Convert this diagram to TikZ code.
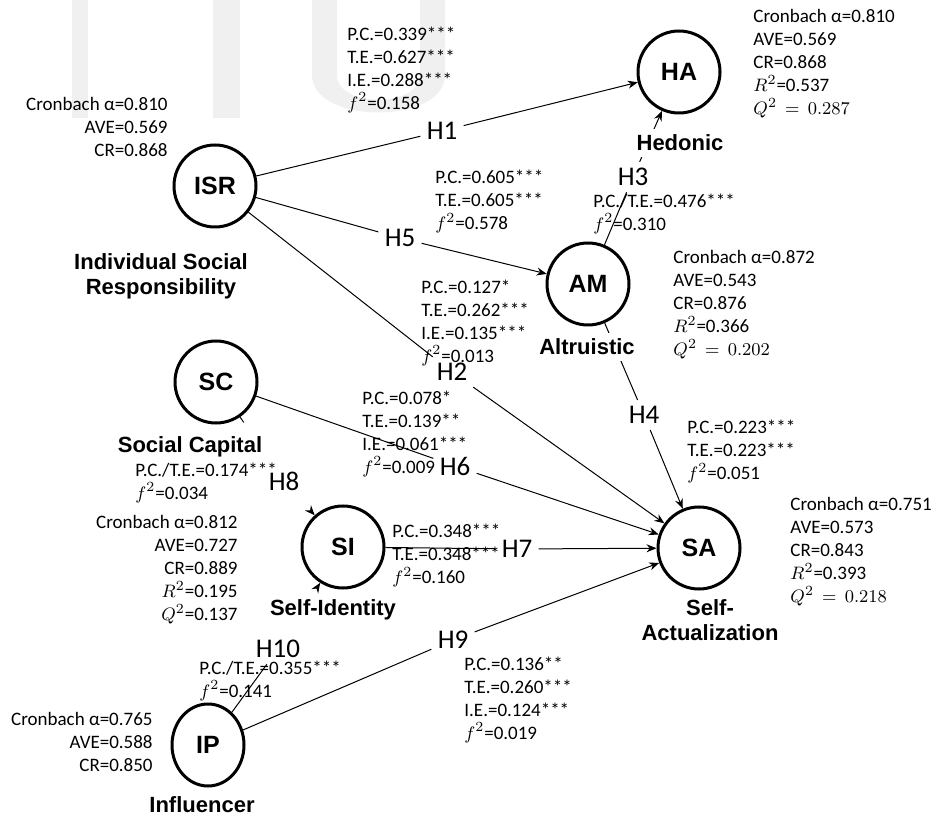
\documentclass[tikz,border=0pt]{standalone}
\usepackage{amsmath}
\usepackage{fontspec}
\setmainfont{Carlito}
\newfontfamily\boldsans{Liberation Sans}
\usepackage{tikz}
\usetikzlibrary{shapes, arrows.meta}
\definecolor{wmgrey}{RGB}{240, 240, 240}

\begin{document}
\begin{tikzpicture}[
   x=0.5pt, y=-0.5pt,
   latent/.style={circle, draw=black, line width=1.5, text=black,
                  inner sep=0, minimum size=41pt,
                  font=\boldsans\bfseries\fontsize{12.5}{14}\selectfont},
   latentell/.style={ellipse, draw=black, line width=1.5, text=black,
                     inner sep=0, minimum width=36pt, minimum height=41pt,
                     font=\boldsans\bfseries\fontsize{12.5}{14}\selectfont},
   construct/.style={font=\boldsans\bfseries\fontsize{11}{12.5}\selectfont,
                     align=center, inner sep=3pt, fill=white},
   statl/.style={anchor=west, align=left, inner sep=0,
                 font=\fontsize{9.5}{11.5}\selectfont},
   statr/.style={anchor=east, align=right, inner sep=0,
                 font=\fontsize{9.5}{11.5}\selectfont},
   hyp/.style={font=\fontsize{13.5}{15}\selectfont, inner sep=3pt},
   link/.style={line width=0.5},
   arr/.style={link, ->, >={Stealth[length=5pt, width=4pt]}}
  ]

  \useasboundingbox (0, 0) rectangle (936, 817);

  % watermark
  \fill[wmgrey] (72, 0) rectangle (88, 118);
  \fill[wmgrey] (213, 0) rectangle (240, 118);
  \fill[wmgrey] (312, 0) -- (312, 75) .. controls (312, 125) and (445, 125) .. (445, 75)
    -- (445, 0) -- (420, 0) -- (420, 75) .. controls (420, 108) and (337, 108) .. (337, 75)
    -- (337, 0) -- cycle;

  % Constructs
  \node (HA) at (679, 72) [latent] {HA};
  \node (ISR) at (215, 186) [latent] {ISR};
  \node (AM) at (588, 284) [latent] {AM};
  \node (SC) at (216, 382) [latent] {SC};
  \node (SI) at (343, 547) [latent] {SI};
  \node (SA) at (699, 548) [latent] {SA};
  \node (IP) at (208, 745) [latentell] {IP};

  % Hypotheses
  \node (H1) at (442, 131) [hyp] {H1};
  \node (H2) at (452, 372) [hyp] {H2};
  \node (H3) at (633, 177) [hyp] {H3};
  \node (H4) at (644, 415) [hyp] {H4};
  \node (H5) at (400, 238) [hyp] {H5};
  \node (H6) at (455, 466) [hyp] {H6};
  \node (H7) at (517, 549) [hyp] {H7};
  \node (H8) at (284, 481) [hyp] {H8};
  \node (H9) at (453, 640) [hyp] {H9};
  \node (H10) at (278, 649) [hyp] {H10};

  \foreach \B/\E in {ISR/H1, ISR/H5, ISR/H2, AM/H3, AM/H4, SC/H6, SI/H7, IP/H9, IP/H10} {
    \draw[link] (\B) -- (\E);
  }
  \draw[link, shorten >=26pt] (SC) -- (H8);
  \foreach \B/\E in {H1/HA, H3/HA, H5/AM, H2/SA, H4/SA, H6/SA, H7/SA, H9/SA} {
    \draw[arr] (\B) -- (\E);
  }
  \draw[arr, shorten <=11pt] (H8) -- (SI);
  \draw[arr, shorten <=27pt] (H10) -- (SI);

  \node (lHA) at (680, 143) [construct] {Hedonic};
  \node (lISR) at (161, 276) [construct] {Individual Social\\Responsibility};
  \node (lAM) at (587, 347) [construct] {Altruistic};
  \node (lSC) at (190, 447) [construct] {Social Capital};
  \node (lSI) at (333, 610) [construct] {Self-Identity};
  \node (lSA) at (710, 620) [construct] {Self-\\Actualization};
  \node (lIP) at (202, 805) [construct] {Influencer};

  % Measurement
  \node (sHA) at (753, 64) [statl] {Cronbach α=0.810\\AVE=0.569\\CR=0.868\\$R^2$=0.537\\$Q^2\,=\,0.287$};
  \node (sISR) at (168, 127) [statr] {Cronbach α=0.810\\AVE=0.569\\CR=0.868};
  \node (sAM) at (673, 305) [statl] {Cronbach α=0.872\\AVE=0.543\\CR=0.876\\$R^2$=0.366\\$Q^2\,=\,0.202$};
  \node (sSC) at (238, 570) [statr] {Cronbach α=0.812\\AVE=0.727\\CR=0.889\\$R^2$=0.195\\$Q^2$=0.137};
  \node (sSA) at (790, 552) [statl] {Cronbach α=0.751\\AVE=0.573\\CR=0.843\\$R^2$=0.393\\$Q^2\,=\,0.218$};
  \node (sIP) at (153, 742) [statr] {Cronbach α=0.765\\AVE=0.588\\CR=0.850};

  % Paths
  \node (pH1) at (347, 70) [statl] {P.C.=0.339***\\T.E.=0.627***\\I.E.=0.288***\\$f^2$=0.158};
  \node (pH5) at (435, 202) [statl] {P.C.=0.605***\\T.E.=0.605***\\$f^2$=0.578};
  \node (pH3) at (593, 214) [statl] {P.C./T.E.=0.476***\\$f^2$=0.310};
  \node (pH2) at (421, 323) [statl] {P.C.=0.127*\\T.E.=0.262***\\I.E.=0.135***\\$f^2$=0.013};
  \node (pH6) at (362, 434) [statl] {P.C.=0.078*\\T.E.=0.139**\\I.E.=0.061***\\$f^2$=0.009};
  \node (pH4) at (687, 452) [statl] {P.C.=0.223***\\T.E.=0.223***\\$f^2$=0.051};
  \node (pH8) at (135, 483) [statl] {P.C./T.E.=0.174***\\$f^2$=0.034};
  \node (pH7) at (392, 556) [statl] {P.C.=0.348***\\T.E.=0.348***\\$f^2$=0.160};
  \node (pH10) at (199, 681) [statl] {P.C./T.E.=0.355***\\$f^2$=0.141};
  \node (pH9) at (464, 700) [statl] {P.C.=0.136**\\T.E.=0.260***\\I.E.=0.124***\\$f^2$=0.019};

\end{tikzpicture}
\end{document}
